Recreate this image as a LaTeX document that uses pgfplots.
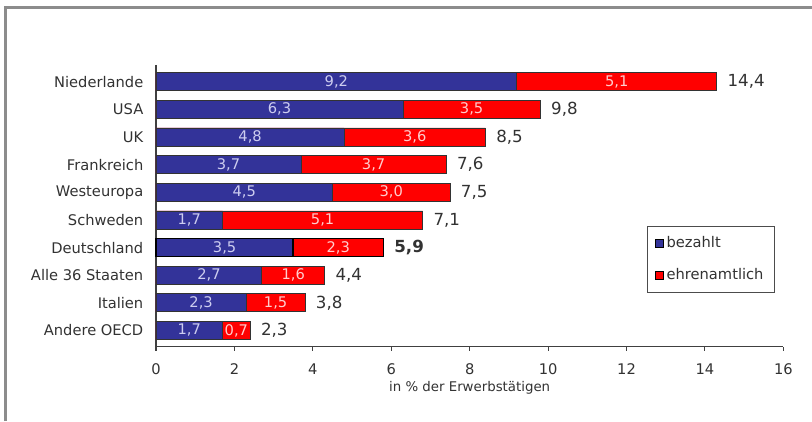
\documentclass[border=0pt]{standalone}
\usepackage{pgfplots}
\usepackage{pgfplotstable}
\pgfplotsset{compat=1.18}
\usepackage{fontspec}
\setmainfont{DejaVu Sans}
\definecolor{bz}{RGB}{51,51,153}
\definecolor{eh}{RGB}{255,0,0}
\definecolor{txt}{RGB}{50,50,50}
\definecolor{framec}{RGB}{140,140,140}
\definecolor{lbz}{RGB}{205,205,240}
\definecolor{leh}{RGB}{255,205,205}

\pgfplotstableread{
y name b e bl el tl
0 Niederlande 9.2 5.1 9,2 5,1 14,4
1 USA 6.3 3.5 6,3 3,5 9,8
2 UK 4.8 3.6 4,8 3,6 8,5
3 Frankreich 3.7 3.7 3,7 3,7 7,6
4 Westeuropa 4.5 3.0 4,5 3,0 7,5
5 Schweden 1.7 5.1 1,7 5,1 7,1
6 Deutschland 3.5 2.3 3,5 2,3 {\textbf{5,9}}
7 {Alle 36 Staaten} 2.7 1.6 2,7 1,6 4,4
8 Italien 2.3 1.5 2,3 1,5 3,8
9 {Andere OECD} 1.7 0.7 1,7 0,7 2,3
}\data

\begin{document}
\begin{tikzpicture}
\begin{axis}[
  scale only axis, width=470.5pt, height=211.3pt,
  xmin=0, xmax=16, ymin=-0.604, ymax=9.586, y dir=reverse,
  axis lines*=left, axis line style={-, draw=black!75, line width=0.8pt},
  xtick={0,2,...,16}, ytick={0,...,9},
  yticklabels from table={\data}{name},
  tick align=outside, major tick length=3pt,
  xtick style={draw=black!75, line width=0.8pt},
  ytick style={draw=none},
  /pgf/number format/assume math mode=true,
  tick label style={font=\fontsize{11}{13}\selectfont, text=txt},
  y tick label style={xshift=-3pt},
  x tick label style={yshift=-6pt},
  xlabel={in \% der Erwerbstätigen},
  xlabel style={font=\fontsize{10}{12}\selectfont, text=txt, yshift=2pt},
  legend style={at={(axis cs:12.52,5.21)}, anchor=north west, draw=black!70, line width=0.6pt,
    font=\fontsize{11}{13}\selectfont, text=txt, row sep=10pt, inner xsep=6pt, inner ysep=6pt},
  legend cell align=left,
  legend image code/.code={\draw[#1, line width=0.5pt] (0pt,-3pt) rectangle (6pt,3pt);},
  clip=false,
]
\addlegendimage{fill=bz, draw=black}
\addlegendentry{bezahlt}
\addlegendimage{fill=eh, draw=black}
\addlegendentry{ehrenamtlich}

\addplot[xbar, bar width=13.5pt, bar shift=0pt, fill=eh, draw=black!80, line width=0.6pt, forget plot]
  table[x expr=\thisrow{b}+\thisrow{e}, y=y]{\data};
\addplot[xbar, bar width=13.5pt, bar shift=0pt, fill=bz, draw=black!80, line width=0.6pt, forget plot]
  table[x=b, y=y]{\data};
\addplot[xbar, bar width=13.5pt, bar shift=0pt, fill=eh, draw=black, line width=1.2pt, forget plot]
  coordinates {(5.8,6)};
\addplot[xbar, bar width=13.5pt, bar shift=0pt, fill=bz, draw=black, line width=1.2pt, forget plot]
  coordinates {(3.5,6)};

\addplot[only marks, mark=none, forget plot, nodes near coords, point meta=explicit symbolic,
  every node near coord/.style={anchor=center, text=lbz, font=\fontsize{11}{13}\selectfont}]
  table[x expr=\thisrow{b}/2, y=y, meta=bl]{\data};
\addplot[only marks, mark=none, forget plot, nodes near coords, point meta=explicit symbolic,
  every node near coord/.style={anchor=center, text=leh, font=\fontsize{11}{13}\selectfont}]
  table[x expr=\thisrow{b}+\thisrow{e}/2, y=y, meta=el]{\data};
\addplot[only marks, mark=none, forget plot, nodes near coords, point meta=explicit symbolic,
  every node near coord/.style={anchor=west, inner sep=0pt, xshift=8pt, text=txt, font=\fontsize{12.5}{14}\selectfont}]
  table[x expr=\thisrow{b}+\thisrow{e}, y=y, meta=tl]{\data};
\end{axis}
\begin{scope}[shift={(current axis.south west)}]
\begin{scope}[x=0.75pt, y=-0.75pt, shift={(-117pt,260.025pt)}]
\useasboundingbox (0,0) rectangle (812,421);
\draw[framec, line width=2.25pt] (5.3,421) -- (5.3,7.5) -- (812,7.5);
\end{scope}
\end{scope}
\end{tikzpicture}
\end{document}
